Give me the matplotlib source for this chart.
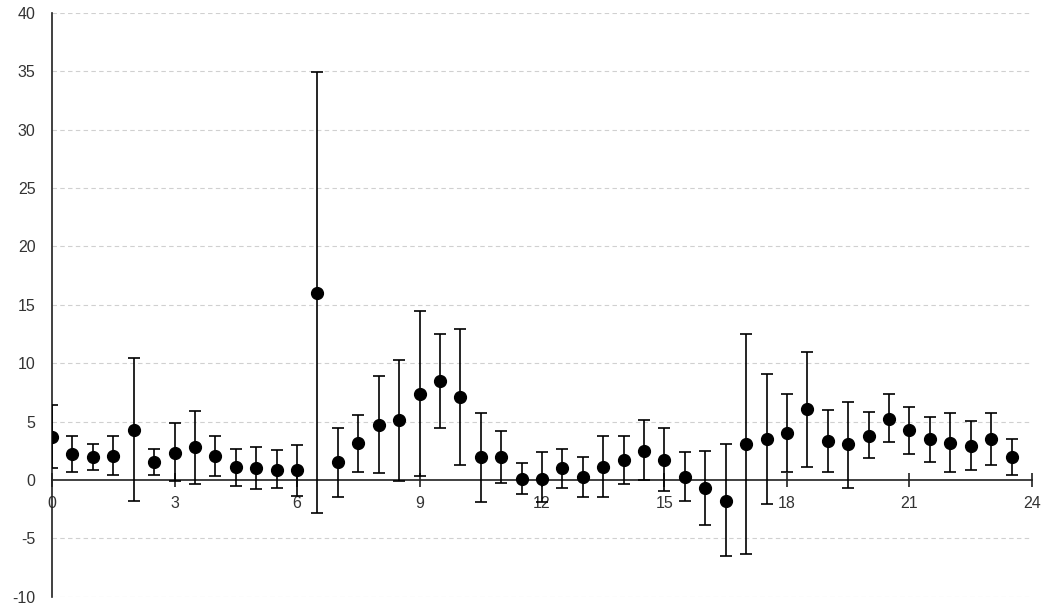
import numpy as np
import matplotlib.pyplot as plt

# hours (half-hour steps) and estimated values with error bar bounds
hours = [0, 0.5, 1, 1.5, 2, 2.5, 3, 3.5, 4, 4.5, 5, 5.5, 6, 6.5, 7, 7.5,
         8, 8.5, 9, 9.5, 10, 10.5, 11, 11.5, 12, 12.5, 13, 13.5, 14, 14.5, 15, 15.5,
         16, 16.5, 17, 17.5, 18, 18.5, 19, 19.5, 20, 20.5, 21, 21.5, 22, 22.5, 23, 23.5]
values = [3.7, 2.2, 1.94, 2.08, 4.28, 1.51, 2.34, 2.8, 2.08, 1.14, 1.0, 0.86, 0.86, 16.0, 1.57, 3.2,
          4.71, 5.14, 7.37, 8.48, 7.08, 1.94, 1.94, 0.09, 0.09, 1.0, 0.29, 1.11, 1.68, 2.51, 1.68, 0.29,
          -0.71, -1.8, 3.05, 3.48, 4.0, 6.08, 3.34, 3.05, 3.74, 5.25, 4.28, 3.48, 3.2, 2.91, 3.48, 1.94]
upper = [6.4, 3.77, 3.08, 3.77, 10.42, 2.68, 4.85, 5.88, 3.77, 2.68, 2.83, 2.54, 2.97, 34.9, 4.48, 5.57,
         8.9, 10.28, 14.45, 12.53, 12.93, 5.71, 4.17, 1.43, 2.37, 2.63, 1.94, 3.8, 3.8, 5.14, 4.48, 2.37,
         2.51, 3.08, 12.48, 9.08, 7.37, 10.96, 6.0, 6.71, 5.85, 7.37, 6.25, 5.43, 5.71, 5.05, 5.71, 3.51]
lower = [1.05, 0.71, 0.86, 0.46, -1.8, 0.46, -0.09, -0.37, 0.34, -0.48, -0.77, -0.66, -1.34, -2.86, -1.49, 0.71,
         0.6, -0.09, 0.31, 4.48, 1.28, -1.91, -0.23, -1.23, -1.86, -0.66, -1.49, -1.49, -0.37, 0.0, -0.94, -1.8,
         -3.85, -6.51, -6.37, -2.06, 0.71, 1.14, 0.71, -0.66, 1.86, 3.22, 2.23, 1.54, 0.71, 0.86, 1.28, 0.43]

x_ticks = [0, 3, 6, 9, 12, 15, 18, 21, 24]
y_ticks = [-10, -5, 0, 5, 10, 15, 20, 25, 30, 35, 40]

plt.rcParams['font.family'] = ['Liberation Sans', 'DejaVu Sans']
plt.rcParams['axes.unicode_minus'] = False

fig = plt.figure(figsize=(10.43, 6.05), dpi=100)
ax = fig.add_axes([0.0499, 0.0136, 0.9395, 0.965])

v = np.array(values)
err = [v - np.array(lower), np.array(upper) - v]
ax.errorbar(hours, values, yerr=err, fmt='o', color='black', ecolor='black',
            markersize=8.5, elinewidth=1.2, capsize=4, capthick=1.2, zorder=3)

ax.set_xlim(0, 24)
ax.set_ylim(-10, 40)
ax.set_xticks(x_ticks)
ax.set_yticks(y_ticks)

# dashed gridlines (skip the one under the x axis)
for yv in y_ticks:
    if yv != 0:
        ax.axhline(yv, color='#d0d0d0', linestyle=(0, (4, 3)), linewidth=0.8, zorder=0)

ax.spines['top'].set_visible(False)
ax.spines['right'].set_visible(False)
ax.spines['bottom'].set_position(('data', 0))
ax.spines['bottom'].set_color('#202020')
ax.spines['left'].set_color('#202020')
ax.spines['bottom'].set_linewidth(1.2)
ax.spines['left'].set_linewidth(1.2)

ax.tick_params(axis='x', direction='inout', length=9.5, width=1.2, color='#202020',
               labelsize=11.5, labelcolor='#333333', pad=7)
ax.tick_params(axis='y', length=0, labelsize=11.5, labelcolor='#333333', pad=12)

fig.savefig('out.png', dpi=100)
